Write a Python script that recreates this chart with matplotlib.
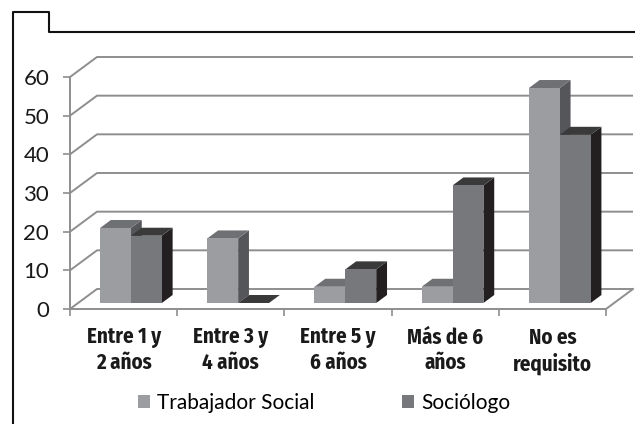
import matplotlib
matplotlib.use("Agg")
import matplotlib.pyplot as plt
from matplotlib.patches import Polygon, Patch
from matplotlib.lines import Line2D

categorias = ["Entre 1 y\n2 años", "Entre 3 y\n4 años", "Entre 5 y\n6 años",
              "Más de 6\naños", "No es\nrequisito"]
series = ["Trabajador Social", "Sociólogo"]
trabajador = [19.4, 16.7, 4.2, 4.2, 55.6]
sociologo = [17.4, 0.0, 8.7, 30.4, 43.5]
valores = [trabajador, sociologo]
yticks = [0, 10, 20, 30, 40, 50, 60]

# colores de caras: frente, arriba, lado
colores = [("#9c9da1", "#6f7073", "#55565a"),
           ("#77787b", "#3a3a3b", "#231f20")]
gris = "#8e8e8e"

W, H = 635, 424
fig = plt.figure(figsize=(W / 100, H / 100), dpi=100)
ax = fig.add_axes([70 / W, (H - 309) / H, (606 - 70) / W, (309 - 77) / H])
ax.set_xlim(0, 5)
ax.set_ylim(0, 60)

# profundidad del piso en unidades de datos
dx = 27 / 107.2
dy = 20 / 3.867

# paredes y lineas de cuadricula
for v in yticks:
    ax.plot([0, dx, 5 + dx], [v, v + dy, v + dy], color=gris, lw=1.4,
            clip_on=False, zorder=1, solid_capstyle="butt")
ax.plot([5, 5 + dx], [0, dy], color=gris, lw=1.4, clip_on=False, zorder=1)

# barras 3D
f0, f1 = 0.3, 0.7
w = 0.288
for i in range(len(categorias)):
    for j, vals in enumerate(valores):
        v = vals[i]
        x0 = i + 0.205 + j * w
        cf, ct, cs = colores[j]
        ax0, ay0 = x0 + f0 * dx, f0 * dy
        bx0, by0 = x0 + f1 * dx, f1 * dy
        side = [(ax0 + w, ay0), (bx0 + w, by0), (bx0 + w, by0 + v), (ax0 + w, ay0 + v)]
        top = [(ax0, ay0 + v), (ax0 + w, ay0 + v), (bx0 + w, by0 + v), (bx0, by0 + v)]
        front = [(ax0, ay0), (ax0 + w, ay0), (ax0 + w, ay0 + v), (ax0, ay0 + v)]
        z = 3 + i * 0.1 + j * 0.03
        ax.add_patch(Polygon(side, closed=True, fc=cs, ec="none", zorder=z, clip_on=False))
        ax.add_patch(Polygon(top, closed=True, fc=ct, ec="none", zorder=z + 0.01, clip_on=False))
        if v > 0:
            ax.add_patch(Polygon(front, closed=True, fc=cf, ec="none", zorder=z + 0.02, clip_on=False))

# ejes
for s in ["top", "right"]:
    ax.spines[s].set_visible(False)
for s in ["left", "bottom"]:
    ax.spines[s].set_color(gris)
    ax.spines[s].set_linewidth(1.4)
    ax.spines[s].set_zorder(2)

ax.set_yticks(yticks)
ax.set_yticklabels([str(t) for t in yticks], fontsize=16, family="Lato", color="#1a1a1a")
ax.tick_params(axis="y", length=5, width=1.2, color=gris, pad=10)

ax.set_xticks(range(6))
ax.set_xticklabels([])
ax.tick_params(axis="x", which="major", length=5, width=1.2, color=gris)
ax.set_xticks([i + 0.5 for i in range(5)], minor=True)
ax.set_xticklabels(categorias, minor=True, fontsize=15, fontweight="bold",
                   family=["Fira Sans Condensed", "Asap Condensed", "DejaVu Sans"],
                   linespacing=1.25, color="#1a1a1a")
ax.tick_params(axis="x", which="minor", length=0, pad=13)

# leyenda
handles = [Patch(facecolor=colores[k][0], edgecolor="none") for k in range(2)]
fig.legend(handles, series, loc="center left", bbox_to_anchor=(138 / W, (H - 403) / H),
           ncol=2, frameon=False, borderpad=0, borderaxespad=0, handlelength=0.58,
           handleheight=0.58, handletextpad=0.34, columnspacing=4.2,
           prop={"family": "Lato", "size": 15})

# marco recortado
fig.add_artist(Line2D([13 / W, 13 / W, 49 / W, 49 / W, 1.0],
                      [0, 1 - 12 / H, 1 - 12 / H, 1 - 32 / H, 1 - 32 / H],
                      transform=fig.transFigure, color="#111111", lw=1.5))

fig.savefig("out.png", dpi=100)
